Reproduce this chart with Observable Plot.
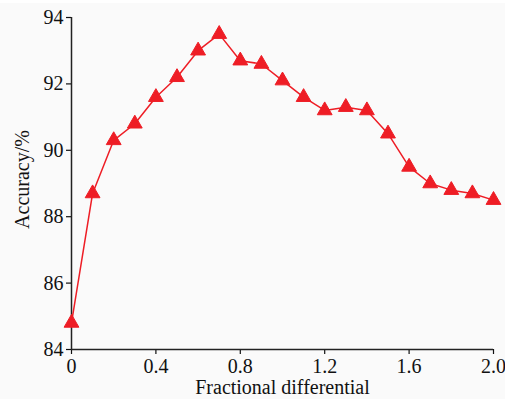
<!DOCTYPE html>
<html>
<head>
<meta charset="utf-8">
<script src="https://cdn.jsdelivr.net/npm/d3@7"></script>
<script src="https://cdn.jsdelivr.net/npm/@observablehq/plot@0.6"></script>
<style>
  html, body { margin: 0; padding: 0; background: #ffffff; }
  #chart { width: 505px; height: 399px; background: #fafafa; margin-top: 3px; }
  svg { font-family: "Liberation Serif", "Times New Roman", serif; }
</style>
</head>
<body>
<div id="chart"></div>
<script>
const fractionalOrder = [0, 0.1, 0.2, 0.3, 0.4, 0.5, 0.6, 0.7, 0.8, 0.9, 1.0, 1.1, 1.2, 1.3, 1.4, 1.5, 1.6, 1.7, 1.8, 1.9, 2.0];
const accuracy = [84.8, 88.7, 90.3, 90.8, 91.6, 92.2, 93.0, 93.5, 92.7, 92.6, 92.1, 91.6, 91.2, 91.3, 91.2, 90.5, 89.5, 89.0, 88.8, 88.7, 88.5];
const xTicks = [0, 0.4, 0.8, 1.2, 1.6, 2.0];
const yTicks = [84, 86, 88, 90, 92, 94];
const xLabel = "Fractional differential";
const yLabel = "Accuracy/%";

const data = fractionalOrder.map((x, i) => ({x, y: accuracy[i]}));
const red = "#ee1d25";

const chart = Plot.plot({
  width: 505,
  height: 396,
  marginLeft: 71,
  marginRight: 12,
  marginTop: 14,
  marginBottom: 50,
  style: {background: "transparent", fontFamily: "Liberation Serif, serif", fontSize: "20px", color: "#111"},
  x: {domain: [0, 2], ticks: xTicks},
  y: {domain: [84, 94], ticks: yTicks},
  marks: [
    Plot.axisX({ticks: xTicks, tickSize: 5, tickPadding: 4, tickFormat: d => d === 0 ? "0" : d.toFixed(1), fontSize: 20, label: null, strokeWidth: 1.2}),
    Plot.axisY({ticks: yTicks, tickSize: 5, tickPadding: 3, fontSize: 20, label: null, strokeWidth: 1.2}),
    Plot.ruleY([84], {stroke: "#222", strokeWidth: 1.5}),
    Plot.ruleX([0], {stroke: "#222", strokeWidth: 1.5}),
    Plot.text([xLabel], {frameAnchor: "bottom", lineAnchor: "middle", dy: 38, fontSize: 20, fill: "#111"}),
    Plot.text([yLabel], {frameAnchor: "left", textAnchor: "middle", lineAnchor: "middle", dx: -49, dy: -4, rotate: -90, fontSize: 20, fill: "#111"}),
    Plot.line(data, {x: "x", y: "y", stroke: red, strokeWidth: 1.5}),
    Plot.dot(data, {x: "x", y: "y", symbol: "triangle", r: 5.5, fill: red, stroke: red, strokeWidth: 1})
  ]
});
document.getElementById("chart").appendChild(chart);
</script>
</body>
</html>
